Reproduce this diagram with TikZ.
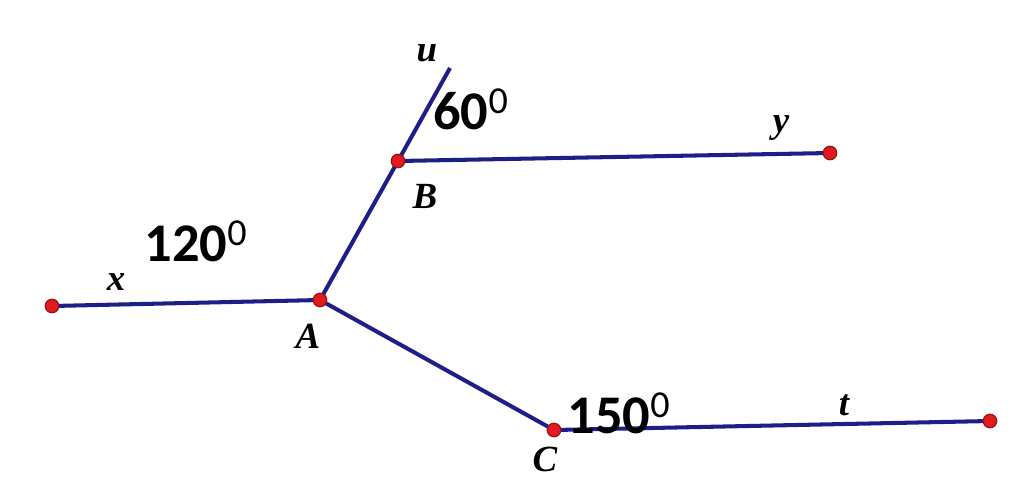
\documentclass[tikz,border=0pt]{standalone}
\usepackage{fontspec}
\setmainfont{Liberation Serif}
\newfontfamily\anglefont{Carlito}
\usepackage{tikz}
\usetikzlibrary{positioning}

\definecolor{rayblue}{HTML}{1E1E88}
\definecolor{ptred}{HTML}{E21A1F}
\definecolor{ptedge}{HTML}{9A1414}

\begin{document}
\begin{tikzpicture}[x=0.02cm,y=-0.02cm,
  ray/.style={draw=rayblue, line width=2.3pt},
  dot/.style={circle, fill=ptred, draw=ptedge, line width=0.7pt, inner sep=0pt, minimum size=0.27cm},
  lbl/.style={font=\fontsize{21}{24}\selectfont\bfseries\itshape},
  deg/.style={font=\fontsize{31}{36}\selectfont\anglefont\bfseries}]
\useasboundingbox (0,0) rectangle (1024,495);

% rays
\coordinate (U) at (450,68);
\draw [ray] (52,306) coordinate (X) -- (320,300) coordinate (A);
\draw [ray] (A) -- (398,161) coordinate (B);
\draw [ray] (B) -- (U);
\draw [ray] (B) -- (830,153) coordinate (Y);
\draw [ray] (A) -- (554,430) coordinate (C);
\draw [ray] (C) -- (990,421) coordinate (T);

% points
\node (px) [dot] at (X) {};
\node (pa) [dot] at (A) {};
\node (pb) [dot] at (B) {};
\node (py) [dot] at (Y) {};
\node (pc) [dot] at (C) {};
\node (pt) [dot] at (T) {};

% labels
\node (la) [lbl] at (308,336) {A};
\node (lb) [lbl] at (425,196) {B};
\node (lc) [lbl] at (545,459) {C};
\node (lx) [lbl] at (116,282) {x};
\node (ly) [lbl] at (781,128) {y};
\node (lt) [lbl] at (844,405) {t};
\node (lu) [lbl] at (427,53) {u};

\node (d60) [deg] at (471,109) {60\textsuperscript{\mdseries 0}};
\node (d120) [deg] at (196,241) {120\textsuperscript{\mdseries 0}};
\node (d150) [deg] at (619,413) {150\textsuperscript{\mdseries 0}};
\end{tikzpicture}
\end{document}
